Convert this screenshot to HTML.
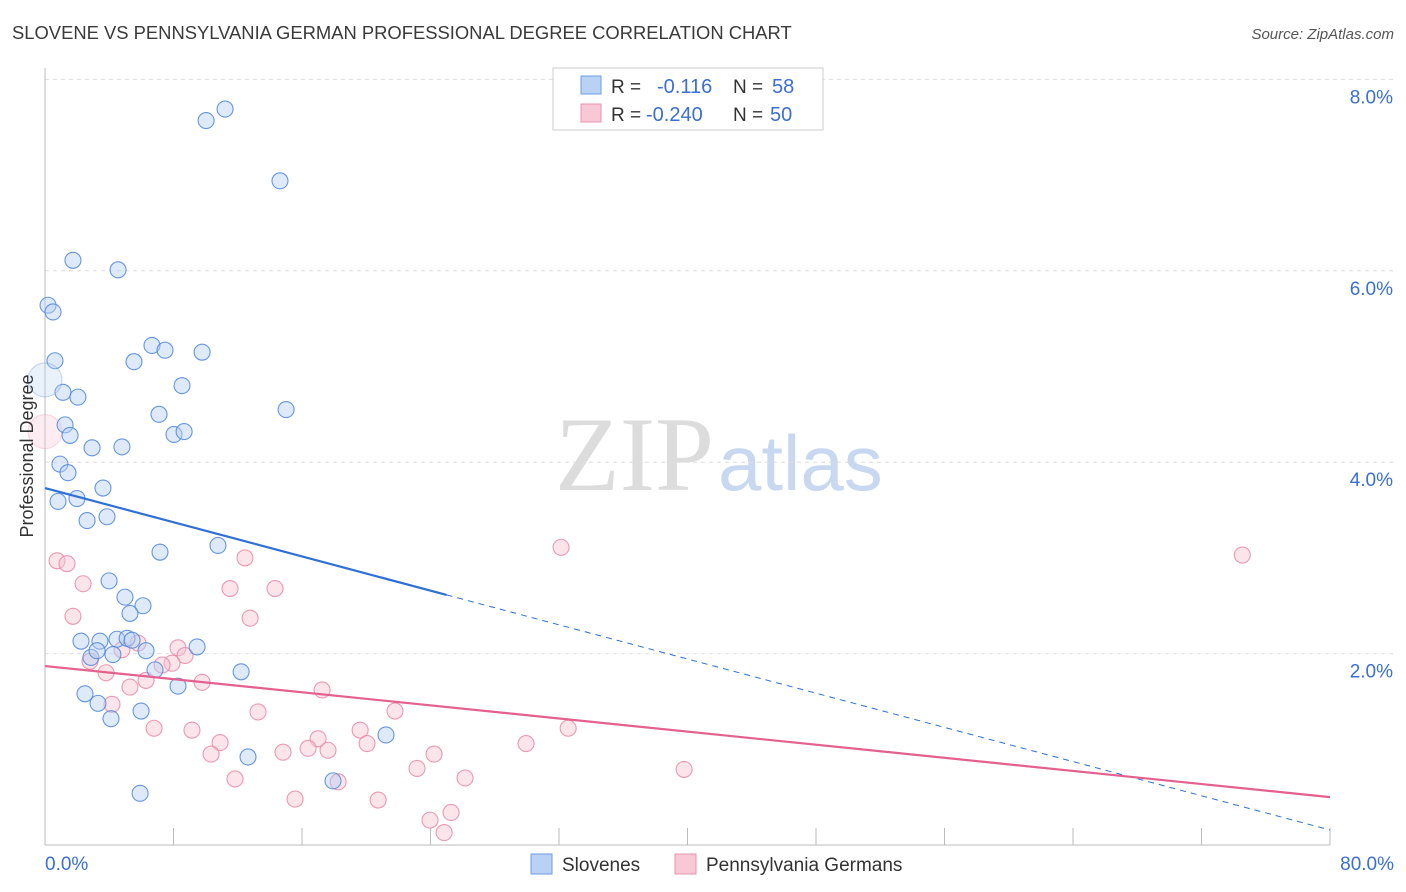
<!DOCTYPE html>
<html><head><meta charset="utf-8"><style>
body{margin:0;background:#fff;font-family:"Liberation Sans",sans-serif;}
svg{display:block}
</style></head><body>
<svg id="chart" width="1406" height="892">
<text x="12" y="39" font-size="18.4" fill="#3a3a3a">SLOVENE VS PENNSYLVANIA GERMAN PROFESSIONAL DEGREE CORRELATION CHART</text>
<text x="1394" y="39" font-size="15" fill="#555" font-style="italic" text-anchor="end">Source: ZipAtlas.com</text>
<text x="714" y="490" font-size="106" fill="#dcdcdc" text-anchor="end" font-family="Liberation Serif">ZIP</text>
<text x="718" y="490" font-size="78" fill="#c8d8f0">atlas</text>
<g id="grid"></g>
<g id="axes"></g>
<g id="marks"></g>
<text x="33" y="456" font-size="18" fill="#333" text-anchor="middle" transform="rotate(-90 33 456)">Professional Degree</text>
<g>
<rect x="553" y="68" width="270" height="62" fill="#fff" stroke="#ccc"/>
<rect x="581" y="76" width="20" height="18" fill="#b9d2f3" stroke="#6a9de0"/>
<rect x="581" y="104" width="20" height="18" fill="#f8c8d6" stroke="#ea94ae"/>
<text x="611" y="93" font-size="19" fill="#333">R = </text><text x="657" y="93" font-size="20" fill="#3b6fd1">-0.116</text>
<text x="733" y="93" font-size="19" fill="#333">N = </text><text x="772" y="93" font-size="20" fill="#3b6fd1">58</text>
<text x="611" y="121" font-size="19" fill="#333">R = </text><text x="646" y="121" font-size="20" fill="#3b6fd1">-0.240</text>
<text x="733" y="121" font-size="19" fill="#333">N = </text><text x="770" y="121" font-size="20" fill="#3b6fd1">50</text>
</g>
<g>
<rect x="531" y="854" width="21" height="20" fill="#b9d2f3" stroke="#6a9de0"/>
<text x="562" y="871" font-size="19" fill="#333">Slovenes</text>
<rect x="675" y="854" width="21" height="20" fill="#f8c8d6" stroke="#ea94ae"/>
<text x="706" y="871" font-size="19" fill="#333">Pennsylvania Germans</text>
</g>
</svg>
<script>
const blueX=[10.03,11.21,14.63,1.74,4.55,0.19,0.50,6.66,7.47,9.78,0.62,5.54,8.53,1.12,2.05,7.10,15.01,1.25,1.56,8.03,8.66,2.93,4.79,0.93,1.43,3.61,0.81,1.99,3.86,2.62,10.77,7.16,3.99,4.98,6.10,5.29,2.24,3.42,4.48,5.11,5.42,6.29,9.47,2.86,3.24,4.23,6.85,12.21,8.28,2.49,3.30,5.98,4.11,21.23,12.64,17.93,5.92,0];
const blueY=[7.57,7.69,6.94,6.11,6.01,5.64,5.57,5.22,5.17,5.15,5.06,5.05,4.80,4.73,4.68,4.50,4.55,4.39,4.28,4.29,4.32,4.15,4.16,3.98,3.89,3.73,3.59,3.62,3.43,3.39,3.13,3.06,2.76,2.59,2.50,2.42,2.13,2.13,2.15,2.16,2.14,2.03,2.07,1.96,2.03,1.99,1.83,1.81,1.66,1.58,1.48,1.40,1.32,1.15,0.92,0.67,0.54,4.86];
const pinkX=[0.75,1.37,2.37,1.74,12.45,11.52,14.32,12.77,32.13,74.54,5.79,4.79,8.28,8.72,7.91,7.29,2.80,3.80,6.29,9.78,5.29,17.25,4.17,13.26,21.79,6.79,9.15,19.62,32.57,10.90,17.00,16.38,14.82,17.62,20.05,29.95,24.22,10.34,23.16,39.79,11.83,26.15,18.25,15.57,20.74,25.28,23.97,24.85,0];
const pinkY=[2.97,2.94,2.73,2.39,3.00,2.68,2.68,2.37,3.11,3.03,2.11,2.04,2.06,1.98,1.90,1.88,1.92,1.80,1.72,1.70,1.65,1.62,1.47,1.39,1.40,1.22,1.20,1.20,1.22,1.07,1.11,1.01,0.97,0.99,1.06,1.06,0.95,0.95,0.80,0.79,0.69,0.70,0.66,0.48,0.47,0.34,0.26,0.13,4.32];
const blueTrend=[3.73,0.157];
const pinkTrend=[1.87,0.50];
const yTicks=[2,4,6,8];
const xTickVals=[8,16,24,32,40,48,56,64,72,80];
const NS='http://www.w3.org/2000/svg';
const X=v=>45+v*(1285/80);
const Y=v=>845-v*95.7;
function mk(tag,attrs,parent){const e=document.createElementNS(NS,tag);for(const k in attrs)e.setAttribute(k,attrs[k]);document.getElementById(parent).appendChild(e);return e;}
yTicks.forEach(t=>{
 const l=mk('line',{x1:45,x2:1394,y1:Y(t),y2:Y(t),stroke:'#ddd','stroke-dasharray':'4,4'},'grid');
 
 
 const tx=mk('text',{x:1393,y:Y(t)+24,'font-size':19,fill:'#3b6fd1','text-anchor':'end'},'grid');
 tx.textContent=t.toFixed(1)+'%';
 
 
});
mk('line',{x1:45,x2:45,y1:68,y2:845,stroke:'#bbb'},'axes');
mk('line',{x1:45,x2:1330,y1:845,y2:845,stroke:'#bbb'},'axes');
xTickVals.forEach(t=>{const l=mk('line',{x1:X(t),x2:X(t),y1:828,y2:845,stroke:'#bbb'},'axes');
 
 });
let t0=mk('text',{x:45,y:870,'font-size':19,fill:'#3b6fd1'},'axes');t0.textContent='0.0%';


let t1=mk('text',{x:1394,y:870,'font-size':19,fill:'#3b6fd1','text-anchor':'end'},'axes');t1.textContent='80.0%';


function dots(xs,ys,fill,stroke,name){xs.forEach((x,i)=>{const big=(x===0);
 const c=mk('circle',{cx:X(x),cy:Y(ys[i]),r:big?17:8,fill:fill,'fill-opacity':big?0.3:0.45,stroke:stroke,'stroke-opacity':big?0.3:0.85,'stroke-width':1.1},'marks');
 
 });}
dots(pinkX,pinkY,'#f8c3d3','#e88aa8','pa-german-point');
dots(blueX,blueY,'#b5cff2','#4f86d9','slovene-point');
const bAt=x=>blueTrend[0]+(blueTrend[1]-blueTrend[0])*x/80;
const pAt=x=>pinkTrend[0]+(pinkTrend[1]-pinkTrend[0])*x/80;
let bl=mk('line',{x1:X(0),y1:Y(bAt(0)),x2:X(25),y2:Y(bAt(25)),stroke:'#2f6fd6','stroke-width':2.2},'marks');


let bd=mk('line',{x1:X(25),y1:Y(bAt(25)),x2:X(80),y2:Y(bAt(80)),stroke:'#2f6fd6','stroke-width':1,'stroke-dasharray':'6,5'},'marks');


let pl=mk('line',{x1:X(0),y1:Y(pAt(0)),x2:X(80),y2:Y(pAt(80)),stroke:'#e4608e','stroke-width':2.2},'marks');


</script>
</body></html>
